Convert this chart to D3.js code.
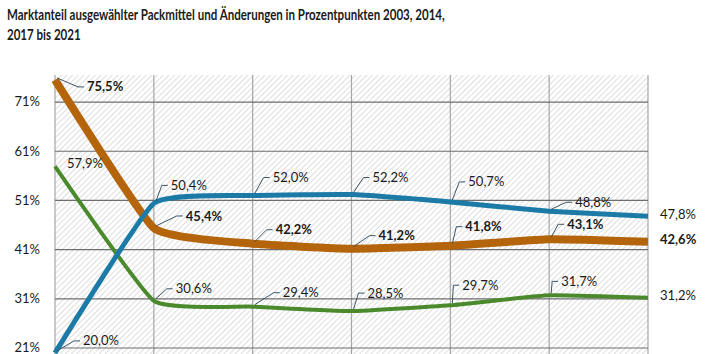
<!DOCTYPE html>
<html>
<head>
<meta charset="utf-8">
<script src="https://cdn.jsdelivr.net/npm/d3@7"></script>
<style>
  body { margin: 0; background: #fff; }
  text { font-family: Lato, "Open Sans", sans-serif; fill: #1a1a1a; }
</style>
</head>
<body>
<script>
// Data
const years = ["2003", "2014", "2017", "2018", "2019", "2020", "2021"];
const brownValues = [75.5, 45.4, 42.2, 41.2, 41.8, 43.1, 42.6];
const blueValues = [20.0, 50.4, 52.0, 52.2, 50.7, 48.8, 47.8];
const greenValues = [57.9, 30.6, 29.4, 28.5, 29.7, 31.7, 31.2];
const yTicks = [21, 31, 41, 51, 61, 71];
const titleLines = [
    "Marktanteil ausgewählter Packmittel und Änderungen in Prozentpunkten 2003, 2014,",
    "2017 bis 2021"
];

// Label placement (dx, dy of label from its point; false = no leader line)
const brownLabelOffsets = [[32, 7], [32, -12], [23, -14], [27, -13], [15, -19], [18, -15], [12, -2, false]];
const blueLabelOffsets = [[28, -12], [17, -18], [20, -18], [21, -17], [18, -20], [26, -9], [12, -2, false]];
const greenLabelOffsets = [[12, -3, false], [22, -12], [30, -14], [16, -18], [12, -20], [12, -14], [12, -2, false]];

const width = 707, height = 354;
const margin = { top: 75, right: 59, left: 55 };
const plotBottom = 362;

const svg = d3.select("body").append("svg")
    .attr("width", width)
    .attr("height", height);

// Hatch pattern for the plot background
const defs = svg.append("defs");
const pattern = defs.append("pattern")
    .attr("id", "hatch")
    .attr("patternUnits", "userSpaceOnUse")
    .attr("width", 4)
    .attr("height", 4)
    .attr("patternTransform", "rotate(45)");
pattern.append("rect").attr("width", 4).attr("height", 4).attr("fill", "#fff");
pattern.append("line")
    .attr("x1", 0).attr("y1", 0).attr("x2", 0).attr("y2", 4)
    .attr("stroke", "#c8c8c8").attr("stroke-width", 1.2);

const x = d3.scalePoint()
    .domain(years)
    .range([margin.left, width - margin.right]);

const y = d3.scaleLinear()
    .domain([21, 76.5])
    .range([348, margin.top]);

// Title (condensed to match the narrow original face)
const title = svg.append("g");
title.selectAll("text")
    .data(titleLines)
    .join("text")
    .attr("x", 0)
    .attr("y", (d, i) => 20 + i * 20)
    .attr("font-size", 14.5)
    .attr("font-weight", "bold")
    .text(d => d);
const titleLen = title.select("text").node().getComputedTextLength();
title.attr("transform", `translate(7,0) scale(${438 / titleLen},1)`);

// Plot background
svg.append("rect")
    .attr("x", margin.left)
    .attr("y", margin.top)
    .attr("width", x.range()[1] - margin.left)
    .attr("height", plotBottom - margin.top)
    .attr("fill", "url(#hatch)");

// Vertical grid
svg.append("g").selectAll("line")
    .data(years)
    .join("line")
    .attr("x1", d => x(d)).attr("x2", d => x(d))
    .attr("y1", margin.top).attr("y2", plotBottom)
    .attr("stroke", "#a6a6a6")
    .attr("stroke-width", 1.2);

// Horizontal grid
svg.append("g").selectAll("line")
    .data(yTicks)
    .join("line")
    .attr("x1", margin.left).attr("x2", x.range()[1])
    .attr("y1", d => y(d)).attr("y2", d => y(d))
    .attr("stroke", "#6e6e6e")
    .attr("stroke-width", 1.2);

// Y axis labels
const yAxis = svg.append("g")
    .attr("transform", `translate(${margin.left - 12},0)`)
    .call(d3.axisLeft(y).tickValues(yTicks).tickSize(0).tickFormat(d => d + "%"));
yAxis.select(".domain").remove();
yAxis.selectAll("text")
    .attr("font-size", 13)
    .attr("font-family", "Lato, sans-serif")
    .attr("fill", "#1a1a1a")
    .attr("dy", "0.3em");

const line = d3.line()
    .x((d, i) => x(years[i]))
    .y(d => y(d))
    .curve(d3.curveCardinal.tension(0.6));

const fmt = v => v.toFixed(1).replace(".", ",") + "%";

const series = [
    { values: greenValues, color: "#4b8a2c", width: 4, offsets: greenLabelOffsets, bold: false },
    { values: brownValues, color: "#b4650c", width: 8, offsets: brownLabelOffsets, bold: true },
    { values: blueValues, color: "#1c7ba6", width: 5, offsets: blueLabelOffsets, bold: false }
];

series.forEach(s => {
    svg.append("path")
        .datum(s.values)
        .attr("fill", "none")
        .attr("stroke", s.color)
        .attr("stroke-width", s.width)
        .attr("stroke-linejoin", "round")
        .attr("d", line);
});

// Data labels with leader lines
series.forEach(s => {
    const g = svg.append("g");
    s.values.forEach((v, i) => {
        const px = x(years[i]), py = y(v);
        const [dx, dy, leader] = s.offsets[i];
        const tx = px + dx, ty = py + dy;
        if (leader !== false) {
            g.append("path")
                .attr("d", `M${px + 2},${py - 2}L${tx - 9},${ty}L${tx - 3},${ty}`)
                .attr("fill", "none")
                .attr("stroke", "#3b5566")
                .attr("stroke-width", 1);
        }
        g.append("text")
            .attr("x", tx)
            .attr("y", ty)
            .attr("dy", "0.35em")
            .attr("font-size", 13)
            .attr("font-weight", s.bold ? "bold" : "normal")
            .text(fmt(v));
    });
});
</script>
</body>
</html>
